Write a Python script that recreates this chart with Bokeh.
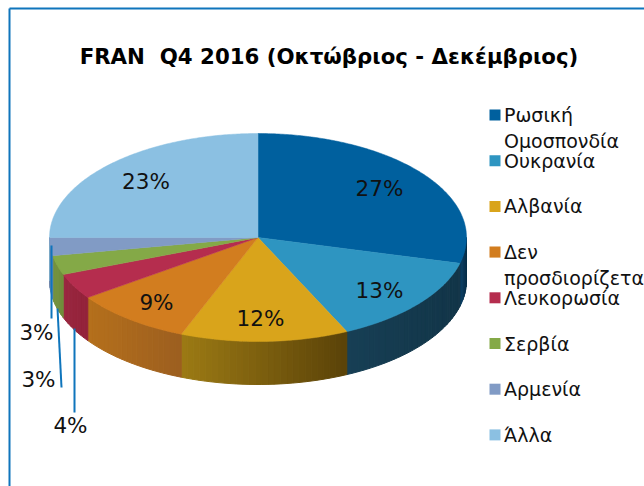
import math
from bokeh.plotting import figure
from bokeh.embed import file_html
from bokeh.resources import INLINE
from bokeh.core.properties import value

categories = ["Ρωσική\nΟμοσπονδία", "Ουκρανία", "Αλβανία", "Δεν\nπροσδιορίζεται",
              "Λευκορωσία", "Σερβία", "Αρμενία", "Άλλα"]
# slice sizes as they are drawn in the picture (the printed labels are rounded differently)
shares = [29.0, 14.0, 13.0, 9.2, 4.0, 3.0, 2.8, 25.0]
labels = ["27%", "13%", "12%", "9%", "4%", "3%", "3%", "23%"]
top_colors = ["#00609e", "#2e95c1", "#d9a41b", "#d27d1f", "#b52d4e", "#84a947", "#819bc5", "#8bc0e2"]
# side wall colours at left and right end of the visible wall of each slice
wall_left = ["#0a3f66", "#173f55", "#9c7a14", "#b5701c", "#9a2740", "#75933f", "#6f86ab", "#7aa8c6"]
wall_right = ["#072c46", "#123548", "#5a4208", "#9c5e1f", "#922239", "#6f8c3a", "#6f86ab", "#7aa8c6"]
title = "FRAN\u00a0 Q4 2016 (Οκτώβριος - Δεκέμβριος)"

CX, CY, RX, RY, DEPTH = 257.5, 237, 208.5, 104, 43
FONT = value("DejaVu Sans")

p = figure(width=644, height=486, output_backend="svg", toolbar_location=None,
           x_range=(0, 644), y_range=(486, 0), min_border=0)
p.axis.visible = False
p.grid.visible = False
p.outline_line_color = None
p.background_fill_color = "white"


def pt(a, dz=0):
    # a: clockwise angle in radians from 12 o'clock
    return CX + RX * math.sin(a), CY - RY * math.cos(a) + dz


def mix(c1, c2, t):
    v1 = [int(c1[i:i + 2], 16) for i in (1, 3, 5)]
    v2 = [int(c2[i:i + 2], 16) for i in (1, 3, 5)]
    return "#%02x%02x%02x" % tuple(round(a + (b - a) * t) for a, b in zip(v1, v2))


# frame
p.line([9, 9], [486, 8], line_color="#0f75bc", line_width=2)
p.line([9, 644], [8, 8], line_color="#0f75bc", line_width=2)

total = sum(shares)
bounds = [0]
for s in shares:
    bounds.append(bounds[-1] + s / total * 2 * math.pi)

# side walls, as strips so that the shading can run across them
for i in range(len(shares)):
    a0, a1 = max(bounds[i], math.pi / 2), min(bounds[i + 1], 3 * math.pi / 2)
    if a1 <= a0:
        continue
    n = max(2, int((a1 - a0) / 0.03))
    xl0, xl1 = pt(a1)[0], pt(a0)[0]
    xs, ys, cs = [], [], []
    for k in range(n):
        u, v = a0 + (a1 - a0) * k / n, a0 + (a1 - a0) * (k + 1) / n
        pu, pv = pt(u), pt(v)
        xs.append([pu[0], pv[0], pv[0], pu[0]])
        ys.append([pu[1], pv[1], pv[1] + DEPTH, pu[1] + DEPTH])
        t = ((pu[0] + pv[0]) / 2 - xl0) / max(xl1 - xl0, 1e-6)
        cs.append(mix(wall_left[i], wall_right[i], t))
    p.patches(xs, ys, fill_color=cs, line_color=cs, line_width=1)

# top face
for i in range(len(shares)):
    a0, a1 = bounds[i], bounds[i + 1]
    n = max(4, int((a1 - a0) / 0.01))
    arc = [pt(a0 + (a1 - a0) * k / n) for k in range(n + 1)]
    p.patch([CX] + [q[0] for q in arc], [CY] + [q[1] for q in arc],
            fill_color=top_colors[i], line_color=top_colors[i], line_width=0.5)

# leader lines of the three small slices
lead_x = [[51, 51], [57, 61], [74, 74]]
lead_y = [[245, 318], [308, 387], [328, 412]]
p.multi_line(lead_x, lead_y, line_color="#0f75bc", line_width=2)

# slice labels
lab_x = [379, 379, 260, 156, 70, 38, 36, 145.5]
lab_y = [188, 290, 318, 302, 425, 379, 332, 181]
p.text(lab_x, lab_y, text=labels, text_font=FONT, text_font_size="21.5px", text_color="#111111",
       text_align="center", text_baseline="middle")

# title
p.text([328.5], [56], text=[title], text_font=FONT, text_font_size="21.3px", text_font_style="bold",
       text_color="black", text_align="center", text_baseline="middle")

# legend
for i, name in enumerate(categories):
    y = 114.5 + i * 45.7
    p.rect([494.5], [y], width=11, height=11, fill_color=top_colors[i], line_color=None)
    p.text([503.5], [y - 11], text=[name], text_font=FONT, text_font_size="19px", text_color="#111111",
           text_align="left", text_baseline="top", text_line_height=1.16)

open("out.html", "w").write(file_html(p, INLINE))
